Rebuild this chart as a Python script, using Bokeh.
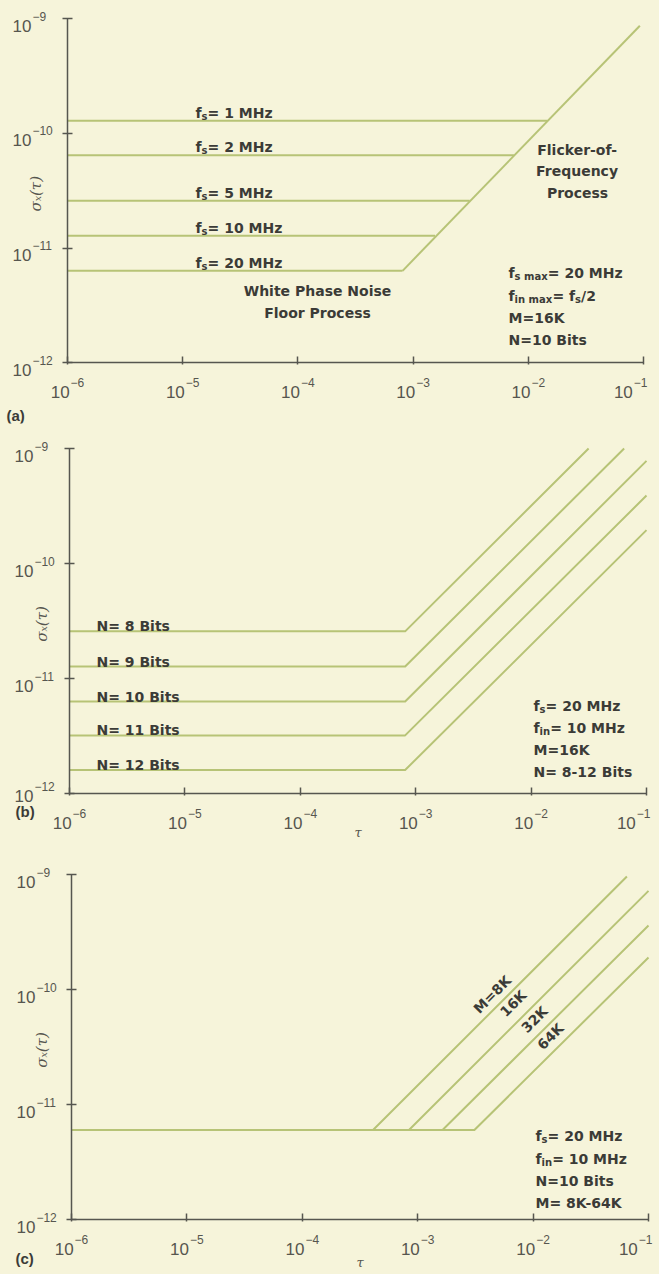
import math
from bokeh.plotting import figure
from bokeh.models import Label, FixedTicker, CustomJSTickFormatter
from bokeh.layouts import column
from bokeh.embed import file_html
from bokeh.resources import INLINE

# ---------------- data ----------------
x_ticks = [1e-6, 1e-5, 1e-4, 1e-3, 1e-2, 1e-1]
x_tick_exp = ["\u22126", "\u22125", "\u22124", "\u22123", "\u22122", "\u22121"]
y_ticks = [1e-12, 1e-11, 1e-10, 1e-9]
y_tick_exp = ["\u221212", "\u221211", "\u221210", "\u22129"]
tau_start = 1e-6

# (a) sampling frequency sweep
a_fs_mhz = [1, 2, 5, 10, 20]
a_floor = [1.29e-10, 6.45e-11, 2.59e-11, 1.28e-11, 6.34e-12]
a_break = [1.46e-2, 7.5e-3, 3.1e-3, 1.55e-3, 8.1e-4]
a_flicker_tau = [8.1e-4, 9.3e-2]
a_flicker_sigma = [6.34e-12, 8.7e-10]

# (b) ADC resolution sweep
b_bits = [8, 9, 10, 11, 12]
b_floor = [2.57e-11, 1.27e-11, 6.3e-12, 3.2e-12, 1.6e-12]
b_break = 8.1e-4
b_end_tau = [3.15e-2, 6.4e-2, 1e-1, 1e-1, 1e-1]
b_end_sigma = [1e-9, 1e-9, 7.8e-10, 3.9e-10, 1.95e-10]

# (c) memory depth sweep
c_m = ["8K", "16K", "32K", "64K"]
c_floor = 6.0e-12
c_break = [4.1e-4, 8.4e-4, 1.64e-3, 3.1e-3]
c_end_tau = [6.5e-2, 1e-1, 1e-1, 1e-1]
c_end_sigma = [9.6e-10, 7.2e-10, 3.6e-10, 1.9e-10]

# ---------------- style ----------------
BG = "#f6f4da"
LINE = "#b7c376"
AXIS = "#56564f"
INK = "#3b3b37"
ANN_FONT = "DejaVu Sans"
ANN_SIZE = 14
TICK_FONT = "Liberation Sans"
FIG_W = 659

DJB = {' ': .348, '=': .838, 'M': .995, 'H': .837, 'z': .592, 'f': .435, 's': .595,
       'i': .343, 'n': .712, 'm': 1.042, 'a': .675, 'x': .663, '/': .365, 'K': .775,
       'N': .837, 'B': .762, 't': .478, '-': .415, 'W': 1.102, 'h': .712, 'e': .678,
       'P': .734, 'o': .687, 'r': .493, 'c': .593, 'l': .343, 'k': .665, 'F': .683,
       'q': .716, 'u': .712, 'y': .650}
LIB = {'\u2212': .584, ' ': .278}


def tw(s, size, table):
    return sum(table.get(ch, .696 if table is DJB else .556) for ch in s) * size


class Panel:
    """One log-log panel; L, T, W, H give the page-pixel box of the axes."""

    def __init__(self, page_top, height, L, T, W, H, x_side="below"):
        self.L, self.T, self.W, self.H = L, T, W, H
        self.dx, self.dy = W / 5.0, H / 3.0
        bl, br = 0, 6
        bt, bb = (9, 0) if x_side == "above" else (0, 5)
        fl, fr = bl, FIG_W - br
        ft, fb = page_top + bt, page_top + height - bb
        lx0, lx1 = math.log10(x_ticks[0]), math.log10(x_ticks[-1])
        ly0, ly1 = math.log10(y_ticks[0]), math.log10(y_ticks[-1])
        x_range = (10 ** (lx0 - (L - fl) / self.dx), 10 ** (lx1 + (fr - (L + W)) / self.dx))
        y_range = (10 ** (ly0 - (fb - (T + H)) / self.dy), 10 ** (ly1 + (T - ft) / self.dy))
        p = figure(width=FIG_W, height=height, x_axis_type="log", y_axis_type="log",
                   x_range=x_range, y_range=y_range, x_axis_location=x_side,
                   y_axis_location="right",
                   output_backend="svg", toolbar_location=None,
                   min_border_left=bl, min_border_right=br,
                   min_border_top=bt, min_border_bottom=bb,
                   background_fill_color=BG, border_fill_color=BG,
                   outline_line_color=None)
        p.grid.visible = False
        xa, ya = p.xaxis[0], p.yaxis[0]
        for ax in (xa, ya):
            ax.axis_line_color = AXIS
            ax.axis_line_width = 1.5
            ax.major_tick_line_color = AXIS
            ax.major_tick_line_width = 1.5
            ax.minor_tick_line_color = None
            ax.formatter = CustomJSTickFormatter(code="return ''")
            ax.major_label_text_font_size = "1px"
            ax.major_label_standoff = 0
        xa.ticker = FixedTicker(ticks=x_ticks, minor_ticks=[])
        ya.ticker = FixedTicker(ticks=y_ticks, minor_ticks=[])
        xa.fixed_location = y_ticks[0]
        ya.fixed_location = x_ticks[0]
        xa.bounds = (x_ticks[0], x_ticks[-1])
        ya.bounds = (y_ticks[0], y_ticks[-1])
        if x_side == "above":
            xa.major_tick_out, xa.major_tick_in = 6, 2
        else:
            xa.major_tick_out, xa.major_tick_in = 2, 6
        ya.major_tick_in = 5
        ya.major_tick_out = 5
        self.p = p

    # page pixel <-> data helpers (for text placement only)
    def tau(self, px):
        return 10 ** (math.log10(x_ticks[0]) + (px - self.L) / self.dx)

    def sig(self, py):
        return 10 ** (math.log10(y_ticks[-1]) - (py - self.T) / self.dy)

    def px(self, t):
        return self.L + (math.log10(t) - math.log10(x_ticks[0])) * self.dx

    def py(self, s):
        return self.T + (math.log10(y_ticks[-1]) - math.log10(s)) * self.dy

    def label(self, px, py, text, size, font=ANN_FONT, style="bold", color=INK,
              align="left", baseline="alphabetic", angle=0.0):
        self.p.add_layout(Label(x=self.tau(px), y=self.sig(py), text=text,
                                text_font=font, text_font_size=f"{size}px",
                                text_font_style=style, text_color=color,
                                text_align=align, text_baseline=baseline, angle=angle))

    def rich(self, parts, px, py, size=ANN_SIZE, align="left"):
        sub = round(size * 0.72)
        widths = [tw(t, size if k == 0 else sub, DJB) for t, k in parts]
        total = sum(widths)
        x = px - total / 2 if align == "center" else px
        for (t, k), w in zip(parts, widths):
            if k == 0:
                self.label(x, py, t, size)
            else:
                self.label(x, py + 3.5, t, sub)
            x += w

    def ticks(self, low_shift=0):
        bottom = self.T + self.H
        wb = tw("10", 17, LIB)
        for i, (t, e) in enumerate(zip(x_ticks, x_tick_exp)):
            we = tw(e, 12, LIB)
            total = wb + 1 + we
            cx = self.px(t)
            x0 = cx - total / 2 if i < len(x_ticks) - 1 else cx + 4 - total
            self.label(x0, bottom + 29, "10", 17, TICK_FONT, "normal", AXIS)
            self.label(x0 + wb + 1, bottom + 20, e, 12, TICK_FONT, "normal", AXIS)
        x0 = self.L - 55
        for j, (s, e) in enumerate(zip(y_ticks, y_tick_exp)):
            cy = self.py(s) - (low_shift if j == 0 else 0)
            self.label(x0, cy + 7, "10", 17, TICK_FONT, "normal", AXIS)
            self.label(x0 + wb + 1, cy - 2.5, e, 12, TICK_FONT, "normal", AXIS)

    def ylabel(self, dx):
        self.label(self.L + dx, self.T + self.H / 2 + 3, "\u03c3\u2093(\u03c4)", 15,
                   "DejaVu Serif", "italic", AXIS, "center", "middle", math.pi / 2)

    def xlabel(self, dy):
        self.label(self.L + self.W / 2, self.T + self.H + dy, "\u03c4", 13,
                   "DejaVu Serif", "italic", AXIS, "center", "middle")


# ---------------- panel (a) ----------------
A = Panel(0, 428, 67, 18.3, 576, 344)
for fl, br in zip(a_floor, a_break):
    A.p.line([tau_start, br], [fl, fl], line_color=LINE, line_width=2)
A.p.line(a_flicker_tau, a_flicker_sigma, line_color=LINE, line_width=2)
for fs, fl in zip(a_fs_mhz, a_floor):
    A.rich([("f", 0), ("s", 1), (f"= {fs} MHz", 0)], 195, A.py(fl) - 8)
A.rich([("White Phase Noise", 0)], 317, 290, align="center")
A.rich([("Floor Process", 0)], 317, 312, align="center")
A.rich([("Flicker-of-", 0)], 577, 149, align="center")
A.rich([("Frequency", 0)], 577, 170, align="center")
A.rich([("Process", 0)], 577, 192, align="center")
A.rich([("f", 0), ("s max", 1), ("= 20 MHz", 0)], 508, 272)
A.rich([("f", 0), ("in max", 1), ("= f", 0), ("s", 1), ("/2", 0)], 508, 295)
A.rich([("M=16K", 0)], 508, 317)
A.rich([("N=10 Bits", 0)], 508, 339)
A.ticks()
A.ylabel(-32)
A.label(6, 415, "(a)", 15, "Liberation Sans", "bold", INK, "left", "middle")

# ---------------- panel (b) ----------------
B = Panel(428, 422, 69, 448, 577, 345)
for fl, et, es in zip(b_floor, b_end_tau, b_end_sigma):
    B.p.line([tau_start, b_break, et], [fl, fl, es], line_color=LINE, line_width=2,
             line_join="round")
for n, fl in zip(b_bits, b_floor):
    B.rich([(f"N= {n} Bits", 0)], 96, B.py(fl) - 5)
B.rich([("f", 0), ("s", 1), ("= 20 MHz", 0)], 533, 705)
B.rich([("f", 0), ("in", 1), ("= 10 MHz", 0)], 533, 727)
B.rich([("M=16K", 0)], 533, 749)
B.rich([(f"N= {b_bits[0]}-{b_bits[-1]} Bits", 0)], 533, 771)
B.ticks(low_shift=5)
B.ylabel(-28)
B.xlabel(39)
B.label(15, 811, "(b)", 15, "Liberation Sans", "bold", INK, "left", "middle")

# ---------------- panel (c) ----------------
C = Panel(850, 424, 71, 874, 577, 345, x_side="above")
for br, et, es in zip(c_break, c_end_tau, c_end_sigma):
    C.p.line([tau_start, br, et], [c_floor, c_floor, es], line_color=LINE, line_width=2,
             line_join="round")
m_label_pos = [(491.7, 994), (512.7, 1003), (534, 1019), (550, 1036)]
for i, (m, (lx, ly)) in enumerate(zip(c_m, m_label_pos)):
    C.label(lx, ly, ("M=" if i == 0 else "") + m, ANN_SIZE, align="center",
            baseline="middle", angle=math.pi / 4)
C.rich([("f", 0), ("s", 1), ("= 20 MHz", 0)], 535, 1135)
C.rich([("f", 0), ("in", 1), ("= 10 MHz", 0)], 535, 1158)
C.rich([("N=10 Bits", 0)], 535, 1180)
C.rich([(f"M= {c_m[0]}-{c_m[-1]}", 0)], 535, 1202)
C.ticks()
C.ylabel(-30)
C.xlabel(43)
C.label(15, 1258, "(c)", 15, "Liberation Sans", "bold", INK, "left", "middle")

layout = column(A.p, B.p, C.p, spacing=0)
html = file_html(layout, INLINE)
html = html.replace("</head>", f"<style>html,body{{background:{BG};}}</style></head>", 1)
open("out.html", "w").write(html)
